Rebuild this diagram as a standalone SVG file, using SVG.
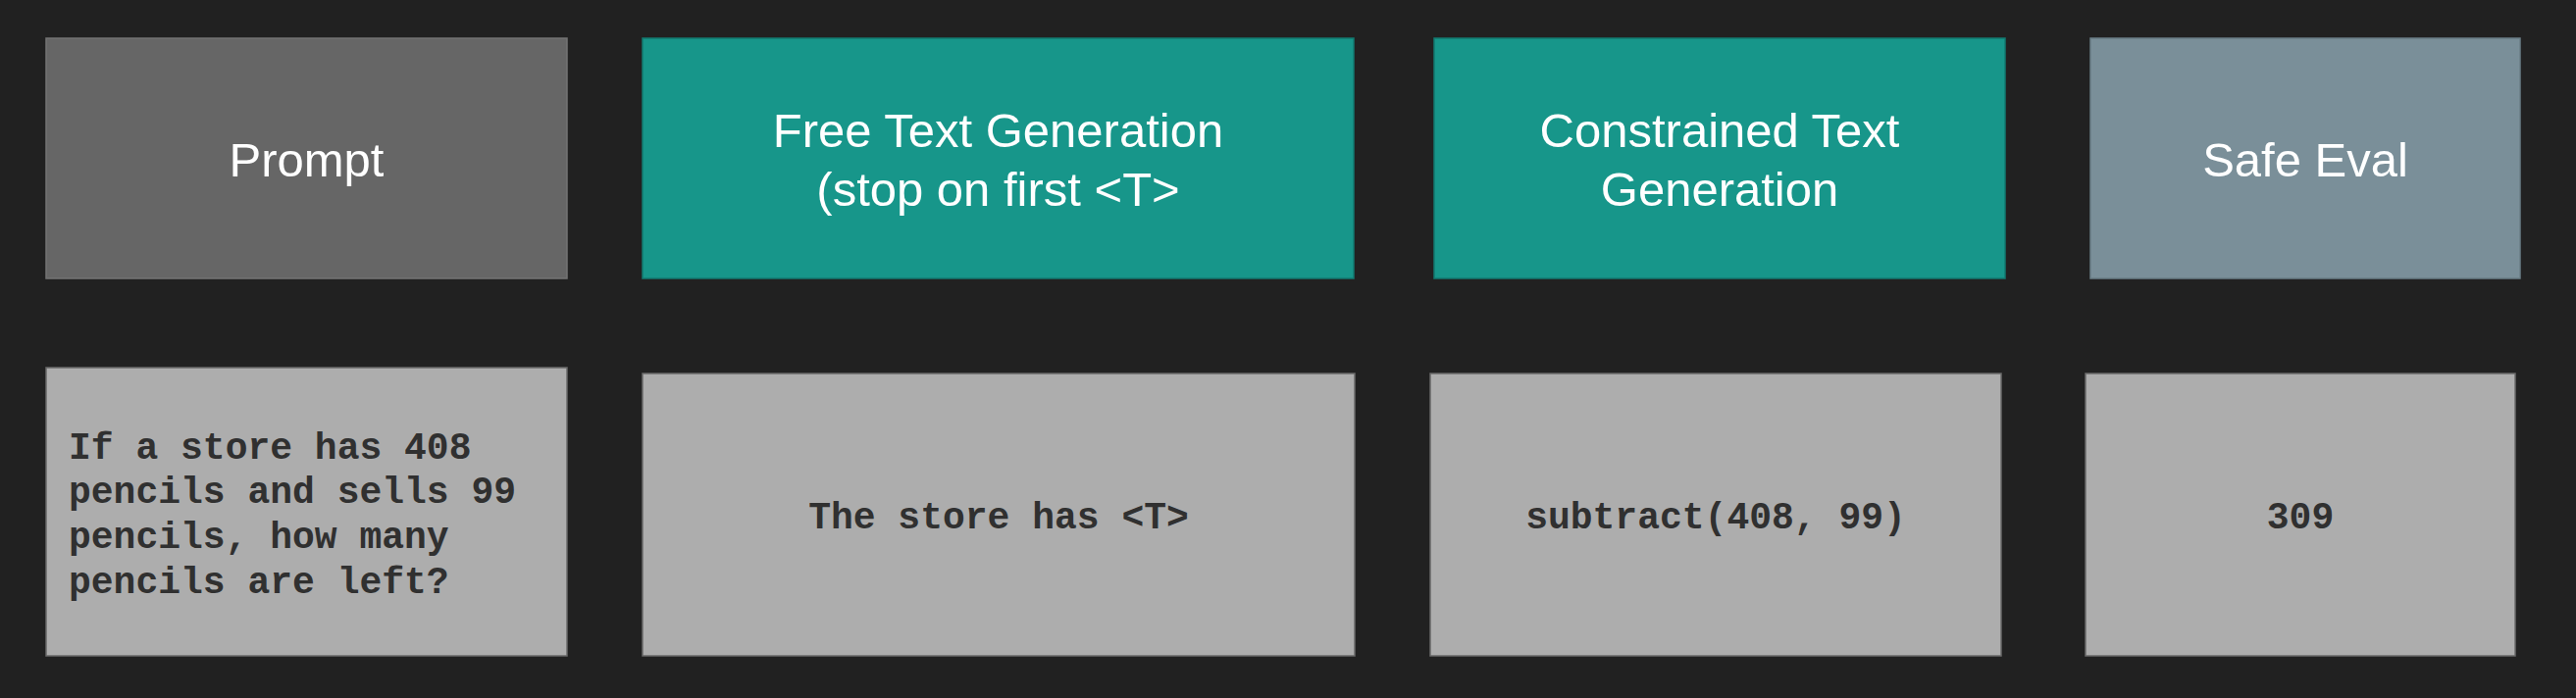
<svg xmlns="http://www.w3.org/2000/svg" width="2626" height="712" viewBox="0 0 2626 712">
<style>
.hdr{stroke-width:1.5}
.h-gray{fill:#666666;stroke:#747474}
.h-teal{fill:#17968a;stroke:#127a70}
.h-slate{fill:#7a8f99;stroke:#6a7d86}
.card{fill:#adadad;stroke:#6a6a6a;stroke-width:1.5}
.ht{font-family:"Liberation Sans",Arial,sans-serif;font-size:49px;fill:#ffffff;text-anchor:middle}
.ct{font-family:"Courier New","Liberation Mono",monospace;font-size:38px;font-weight:bold;fill:#303030}
.mid{text-anchor:middle}
</style>
<rect x="0" y="0" width="2626" height="712" fill="#212121"/>
<g id="prompt-header">
<rect class="hdr h-gray" x="47" y="39" width="531" height="245"/>
<text class="ht" x="312.5" y="179.5">Prompt</text>
</g>
<g id="free-header">
<rect class="hdr h-teal" x="655" y="39" width="725" height="245"/>
<text class="ht" x="1017.5" y="149.5">Free Text Generation</text>
<text class="ht" x="1017.5" y="209.5">(stop on first &lt;T&gt;</text>
</g>
<g id="constrained-header">
<rect class="hdr h-teal" x="1462" y="39" width="582" height="245"/>
<text class="ht" x="1753" y="149.5">Constrained Text</text>
<text class="ht" x="1753" y="209.5">Generation</text>
</g>
<g id="safe-header">
<rect class="hdr h-slate" x="2131" y="39" width="438" height="245"/>
<text class="ht" x="2350" y="179.5">Safe Eval</text>
</g>
<g id="prompt-card">
<rect class="card" x="47" y="375" width="531" height="294"/>
<text class="ct" x="70" y="467.5">If a store has 408</text>
<text class="ct" x="70" y="513">pencils and sells 99</text>
<text class="ct" x="70" y="558.5">pencils, how many</text>
<text class="ct" x="70" y="604.5">pencils are left?</text>
</g>
<g id="free-card">
<rect class="card" x="655" y="381" width="726" height="288"/>
<text class="ct mid" x="1018" y="539">The store has &lt;T&gt;</text>
</g>
<g id="constrained-card">
<rect class="card" x="1458" y="381" width="582" height="288"/>
<text class="ct mid" x="1749" y="539">subtract(408, 99)</text>
</g>
<g id="safe-card">
<rect class="card" x="2126" y="381" width="438" height="288"/>
<text class="ct mid" x="2345" y="539">309</text>
</g>
<g id="connectors"></g>
</svg>
